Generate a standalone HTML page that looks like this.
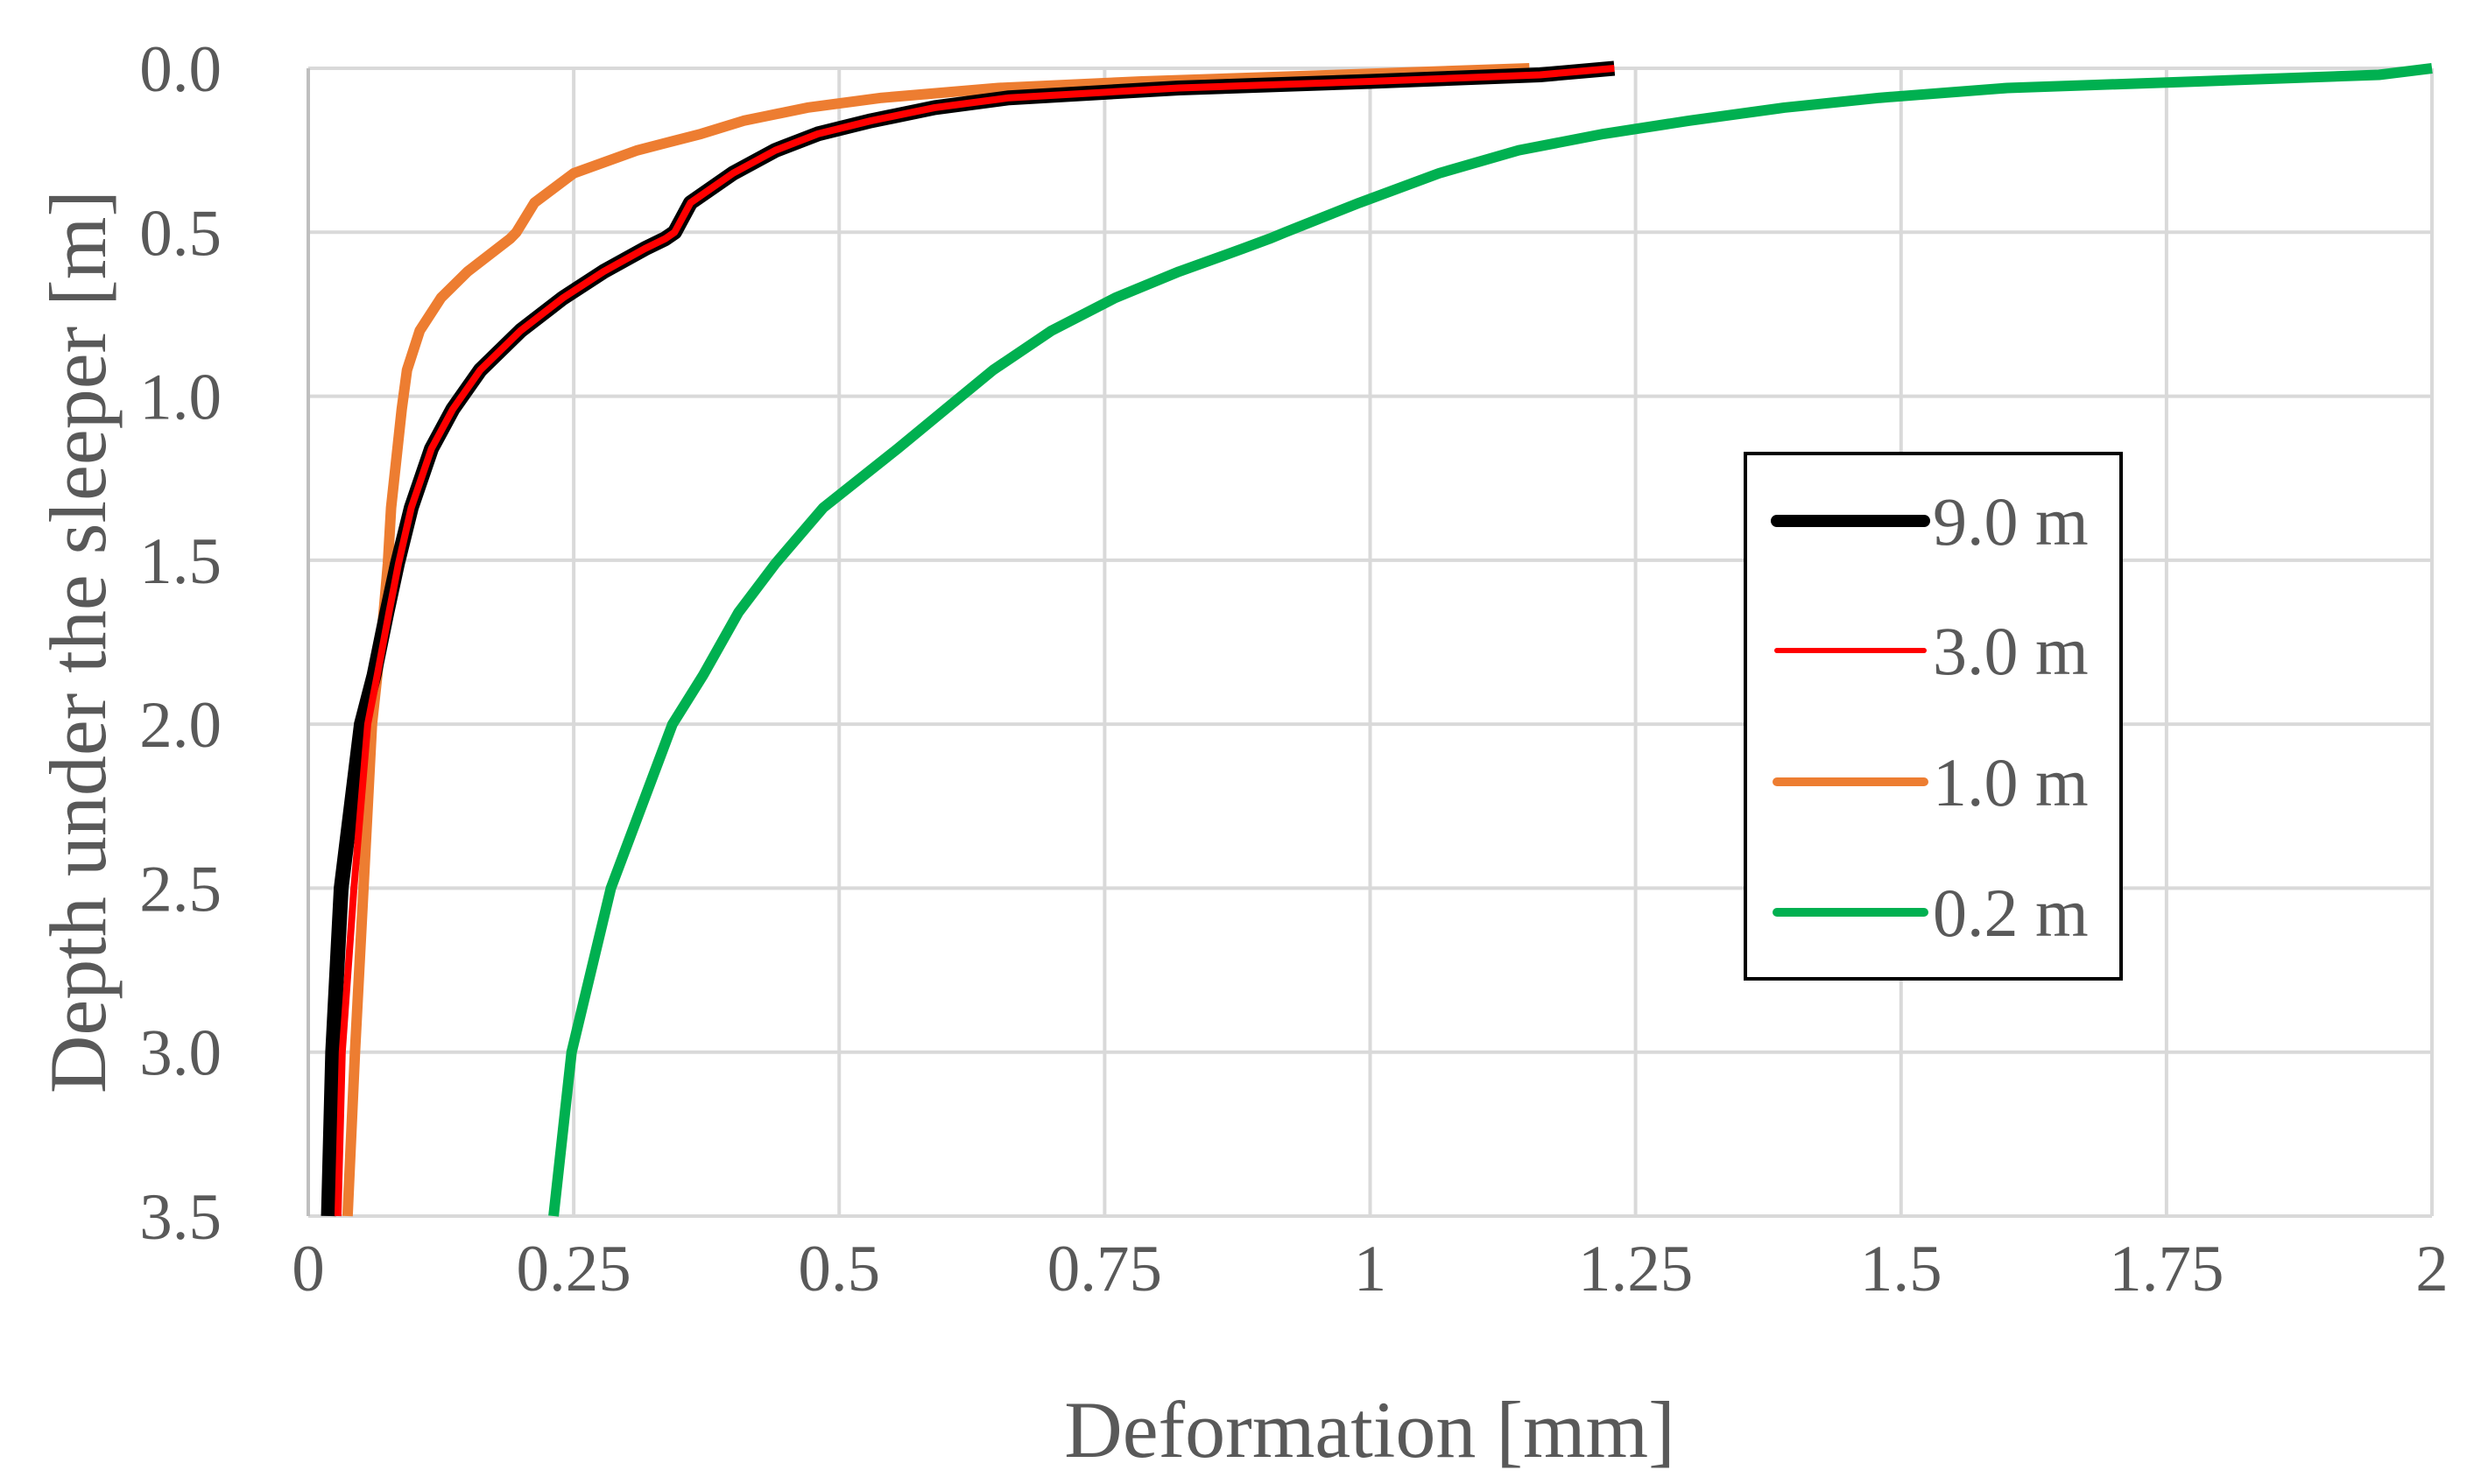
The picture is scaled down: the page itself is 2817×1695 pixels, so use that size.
<!DOCTYPE html>
<html><head><meta charset="utf-8"><style>
html,body{margin:0;padding:0;background:#fff}
svg{display:block}
text{font-family:"Liberation Serif",serif;fill:#595959}
</style></head><body>
<svg id="chart" width="2817" height="1695" viewBox="0 0 2817 1695" xmlns="http://www.w3.org/2000/svg">
<g id="grid"></g>
<g id="ticks"></g>
<g id="series"></g>
<text x="1564" y="1664" font-size="92" text-anchor="middle">Deformation [mm]</text>
<text transform="translate(120,733) rotate(-90)" font-size="92" text-anchor="middle">Depth under the sleeper [m]</text>
<g>
<rect x="1993" y="518" width="429" height="600" fill="#fff" stroke="#000" stroke-width="4"/>
<g id="legend-items"></g>
</g>
</svg>
<script>
const xTicks=[0,0.25,0.5,0.75,1,1.25,1.5,1.75,2];
const xTickLabels=["0","0.25","0.5","0.75","1","1.25","1.5","1.75","2"];
const yTicks=[0,0.5,1,1.5,2,2.5,3,3.5];
const yTickLabels=["0.0","0.5","1.0","1.5","2.0","2.5","3.0","3.5"];
const depth=[0,0.02,0.04,0.06,0.09,0.12,0.16,0.2,0.25,0.32,0.41,0.5,0.52,0.55,0.62,0.7,0.8,0.92,1.04,1.16,1.34,1.51,1.66,1.85,2.0,2.5,3.0,3.5];
const def9=[1.23,1.16,1.0,0.82,0.66,0.59,0.53,0.48,0.44,0.40,0.36,0.345,0.336,0.317,0.278,0.24,0.20,0.162,0.136,0.116,0.097,0.084,0.074,0.062,0.05,0.031,0.023,0.019];
const def3=[1.23,1.16,1.0,0.82,0.66,0.59,0.53,0.48,0.44,0.40,0.36,0.345,0.336,0.317,0.278,0.24,0.20,0.162,0.136,0.116,0.097,0.085,0.076,0.065,0.056,0.043,0.032,0.028];
const def1=[1.15,0.97,0.785,0.65,0.54,0.47,0.41,0.37,0.31,0.25,0.213,0.196,0.19,0.178,0.15,0.125,0.105,0.093,0.088,0.084,0.078,0.075,0.071,0.065,0.06,0.052,0.044,0.037];
const def02=[2.0,1.95,1.78,1.6,1.48,1.39,1.3,1.22,1.14,1.065,0.99,0.92,0.905,0.88,0.82,0.76,0.70,0.645,0.60,0.555,0.485,0.44,0.405,0.372,0.343,0.285,0.248,0.231];
const seriesNames=["9.0 m","3.0 m","1.0 m","0.2 m"];
const NS="http://www.w3.org/2000/svg";
const X0=352,X1=2777,Y0=78,Y1=1389;
const sx=v=>X0+(v-0)/(2-0)*(X1-X0);
const sy=v=>Y0+(v-0)/(3.5-0)*(Y1-Y0);
function mk(tag,parent,attrs){const e=document.createElementNS(NS,tag);for(const k in attrs)e.setAttribute(k,attrs[k]);parent.appendChild(e);return e;}
const grid=document.getElementById('grid'),ticks=document.getElementById('ticks');
xTicks.forEach((t,i)=>{
 const l=mk('line',grid,{x1:sx(t),x2:sx(t),y1:Y0,y2:Y1,stroke:'#d9d9d9','stroke-width':4});
 
 
 const tx=mk('text',ticks,{x:sx(t),y:1474,'font-size':75,'text-anchor':'middle'});
 tx.textContent=xTickLabels[i];
 
 
});
yTicks.forEach((t,i)=>{
 const l=mk('line',grid,{x1:X0,x2:X1,y1:sy(t),y2:sy(t),stroke:'#d9d9d9','stroke-width':4});
 
 
 const tx=mk('text',ticks,{x:253,y:sy(t)+26,'font-size':75,'text-anchor':'end'});
 tx.textContent=yTickLabels[i];
 
 
});
const la=mk('line',grid,{x1:X0,x2:X0,y1:Y0,y2:Y1,stroke:'#bfbfbf','stroke-width':4});


const series=document.getElementById('series');
const defs=[def02,def1,def9,def3];
const cols=['#00b050','#ed7d31','#000000','#ff0000'];
const wid=[12,12,17,8];
const nm=['series-0-2m','series-1-0m','series-9-0m','series-3-0m'];
defs.forEach((d,k)=>{
 const pts=d.map((v,i)=>sx(v)+','+sy(depth[i])).join(' ');
 const p=mk('polyline',series,{points:pts,fill:'none',stroke:cols[k],'stroke-width':wid[k],'stroke-linejoin':'round'});
 
 
});
const li=document.getElementById('legend-items');
const lcols=['#000000','#ff0000','#ed7d31','#00b050'],lw=[14,6,10,10],ly=[595,743,893,1042];
seriesNames.forEach((n,i)=>{
 const l=mk('line',li,{x1:2029,x2:2197,y1:ly[i],y2:ly[i],stroke:lcols[i],'stroke-width':lw[i],'stroke-linecap':'round'});
 
 
 const t=mk('text',li,{x:2207,y:ly[i]+27,'font-size':78});
 t.textContent=n;
 
 
});
</script>
</body></html>
